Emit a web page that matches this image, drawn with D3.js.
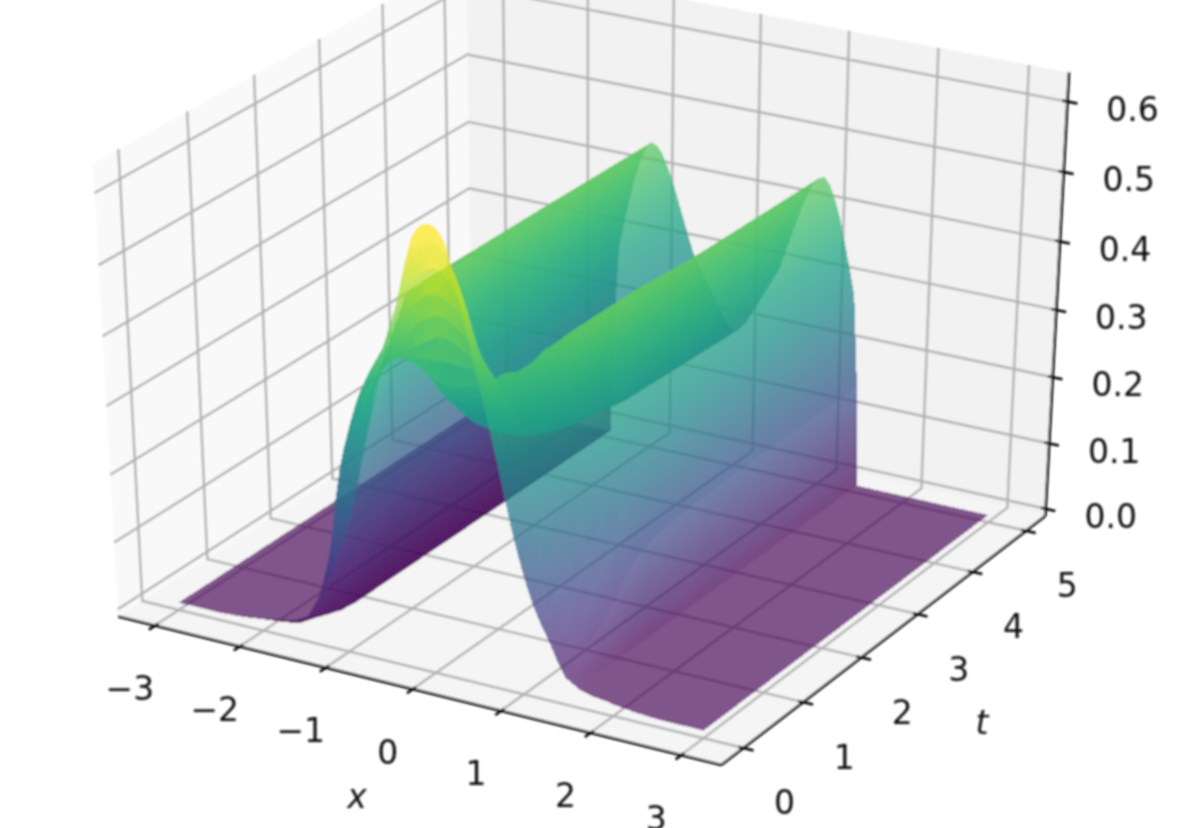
<!DOCTYPE html>
<html>
<head>
<meta charset="utf-8">
<script src="https://cdn.jsdelivr.net/npm/d3@7"></script>
<style>
  html, body { margin: 0; padding: 0; background: #fff; overflow: hidden; }
  text { font-family: "DejaVu Sans", sans-serif; fill: #111; }
</style>
</head>
<body>
<svg id="chart"></svg>
<script>
const width = 1196;
const height = 828;

const xTicks = [-3, -2, -1, 0, 1, 2, 3];
const tTicks = [0, 1, 2, 3, 4, 5];
const zTicks = [0, 0.1, 0.2, 0.3, 0.4, 0.5, 0.6];

// surface. it is even in x, so rows hold x >= 0 only,
// anything past the end of a row sits on the floor
const xHalf = [0, 0.0625, 0.125, 0.1875, 0.25, 0.3125, 0.375, 0.4375, 0.5, 0.5625, 0.625, 0.6875, 0.75, 0.8125, 0.875, 0.9375,
  1, 1.0625, 1.125, 1.1875, 1.25, 1.3125, 1.375, 1.4375, 1.47, 1.625, 1.75, 1.875, 2, 2.25, 2.5, 3];
const tGrid = [0, 0.05, 0.1, 0.2, 0.3, 0.4, 0.5, 0.75, 1, 1.25, 1.5, 2, 3, 5];

const uT000 = [.628, .626, .618, .604, .575, .54, .505, .47, .435, .405, .372, .336, .30, .262, .225, .194, .165, .14, .118, .10, .085, .068, .05, .035, .028, .016, .013, .01, .006, .002];
const uT005 = [.60, .598, .59, .578, .56, .54, .517, .49, .465, .44, .42, .397, .375, .348, .32, .29, .26, .225, .19, .152, .115, .082, .05, .03, .022, .01, .006, .004, .002];
const uT010 = [.525, .524, .52, .513, .505, .495, .48, .467, .452, .44, .43, .415, .40, .383, .365, .342, .315, .285, .25, .20, .135, .085, .045, .028, .02, .006, .002];
const uT020 = [.46, .459, .455, .45, .445, .44, .435, .428, .42, .412, .405, .395, .385, .372, .355, .335, .31, .275, .235, .19, .145, .108, .075, .035, .014, .003];
const uT030 = [.385, .386, .388, .391, .395, .40, .405, .408, .41, .411, .41, .403, .39, .375, .355, .335, .31, .275, .235, .195, .15, .113, .08, .04, .01];
const uT040 = [.36, .361, .364, .37, .377, .386, .396, .405, .412, .416, .416, .412, .403, .39, .375, .358, .335, .30, .26, .215, .175, .135, .095, .05, .007];
const uT050 = [.34, .341, .345, .351, .358, .368, .38, .39, .40, .41, .415, .416, .414, .40, .38, .37, .355, .33, .29, .25, .21, .165, .12, .055, .003];
const uT075 = [.305, .306, .31, .317, .325, .335, .348, .363, .38, .398, .415, .427, .435, .44, .44, .425, .40, .37, .33, .29, .25, .20, .15, .075, 0];
const uT100 = [.28, .281, .286, .293, .302, .313, .327, .343, .36, .38, .40, .418, .433, .443, .45, .452, .45, .42, .385, .345, .305, .26, .20, .11, 0];
const uT125 = [.26, .262, .267, .275, .285, .297, .312, .33, .35, .37, .392, .412, .43, .442, .45, .453, .452, .43, .405, .375, .34, .295, .24, .13, 0];
const uT150 = [.245, .247, .253, .262, .272, .285, .30, .32, .34, .362, .385, .407, .427, .44, .45, .454, .452, .44, .415, .385, .35, .31, .265, .14, 0];
const uT200 = [.225, .227, .234, .243, .255, .27, .285, .305, .325, .35, .375, .40, .42, .437, .45, .453, .452, .44, .42, .39, .355, .32, .275, .145, 0];
const uT300 = [.205, .208, .215, .227, .24, .255, .27, .288, .308, .332, .357, .382, .407, .427, .442, .45, .452, .44, .42, .393, .36, .322, .28, .15, 0];
const uT500 = [.195, .20, .21, .225, .24, .255, .27, .285, .30, .325, .35, .375, .40, .42, .437, .447, .45, .44, .42, .395, .36, .325, .285, .15, 0];
const halfRows = [uT000, uT005, uT010, uT020, uT030, uT040, uT050, uT075, uT100, uT125, uT150, uT200, uT300, uT500];

const mirror = (vals) => [...vals.slice(1).reverse(), ...vals];
const xGrid = [...xHalf.slice(1).reverse().map(x => -x), ...xHalf];
const uRows = halfRows.map(r => mirror(xHalf.map((x, i) => r[i] || 0)));

// box limits, same as the 3d axes the picture came from
const xView = d3.scaleLinear().domain([-3.3, 3.3]).range([0, 1]);
const tView = d3.scaleLinear().domain([-0.25, 5.25]).range([0, 1]);
const zView = d3.scaleLinear().domain([0.002, 0.635]).range([0, 1]);
const paneLo = -1 / 48;
const paneHi = 49 / 48;
const zPaneHi = 1.009;

const elev = 30 * Math.PI / 180;
const azim = -60 * Math.PI / 180;
const dist = 10;
const nv = [Math.cos(elev) * Math.cos(azim), Math.cos(elev) * Math.sin(azim), Math.sin(elev)];
const uv = [-nv[1] / Math.hypot(nv[0], nv[1]), nv[0] / Math.hypot(nv[0], nv[1]), 0];
const vv = [nv[1] * uv[2] - nv[2] * uv[1], nv[2] * uv[0] - nv[0] * uv[2], nv[0] * uv[1] - nv[1] * uv[0]];

const screenX = d3.scaleLinear().domain([-0.0705, 0.0682]).range([118, 1045]);
const screenY = d3.scaleLinear().domain([-0.08365, 0.0552]).range([765, 67]);

// a, b, c are box coordinates, 0..1 on each side
const project = (a, b, c) => {
  const p = [a - 0.5, b - 0.5, c - 0.5];
  const dot = (q) => q[0] * p[0] + q[1] * p[1] + q[2] * p[2];
  const w = dist - dot(nv);
  return [screenX(dot(uv) / w), screenY(dot(vv) / w)];
};

const colorNorm = d3.scaleLinear().domain([0, 0.6]).range([0, 1]).clamp(true);
const colorScale = (u) => d3.interpolateViridis(colorNorm(u));
const alphaScale = d3.scaleLinear().domain([0.02, 0.25]).range([0.66, 0.74]).clamp(true);

const canvas = d3.select('#chart')
  .attr('width', width)
  .attr('height', height)
  .style('display', 'block');

const defs = canvas.append('defs');
defs.append('filter')
  .attr('id', 'soft')
  .attr('filterUnits', 'userSpaceOnUse')
  .attr('x', 0).attr('y', 0).attr('width', width).attr('height', height)
  .append('feGaussianBlur')
  .attr('stdDeviation', 0.85);

const root = canvas.append('g').attr('filter', 'url(#soft)');
const line = d3.line();

const drawPanes = () => {
  const panes = [
    { fill: '#f9f9f9', pts: [[paneLo, paneLo, paneLo], [paneLo, paneHi, paneLo], [paneLo, paneHi, zPaneHi], [paneLo, paneLo, zPaneHi]] },
    { fill: '#f2f2f2', pts: [[paneLo, paneHi, paneLo], [paneHi, paneHi, paneLo], [paneHi, paneHi, zPaneHi], [paneLo, paneHi, zPaneHi]] },
    { fill: '#f5f5f5', pts: [[paneLo, paneLo, paneLo], [paneHi, paneLo, paneLo], [paneHi, paneHi, paneLo], [paneLo, paneHi, paneLo]] }
  ];
  root.append('g').selectAll('path')
    .data(panes)
    .enter()
    .append('path')
    .attr('d', d => line(d.pts.map(q => project(...q))) + 'Z')
    .attr('fill', d => d.fill);
};

const drawGrid = () => {
  const grid = [
    ...xTicks.map(v => [[xView(v), paneLo, paneLo], [xView(v), paneHi, paneLo], [xView(v), paneHi, zPaneHi]]),
    ...tTicks.map(v => [[paneHi, tView(v), paneLo], [paneLo, tView(v), paneLo], [paneLo, tView(v), zPaneHi]]),
    ...zTicks.map(v => [[paneLo, paneLo, zView(v)], [paneLo, paneHi, zView(v)], [paneHi, paneHi, zView(v)]])
  ];
  root.append('g').selectAll('path')
    .data(grid)
    .enter()
    .append('path')
    .attr('d', d => line(d.map(q => project(...q))))
    .attr('fill', 'none')
    .attr('stroke', '#b0b0b0')
    .attr('stroke-width', 2.4);
};

const drawSurface = () => {
  // each patch between two read rows is painted as thin strips, far ones first,
  // then left to right, so the transparency stacks back to front
  const quads = [];
  for (let r = tGrid.length - 2; r >= 0; r--) {
    const strips = Math.max(2, Math.ceil((tGrid[r + 1] - tGrid[r]) / 0.1));
    const mixT = d3.interpolateNumber(tGrid[r], tGrid[r + 1]);
    for (let s = strips - 1; s >= 0; s--) {
      const f0 = s / strips;
      const f1 = (s + 1) / strips;
      const mixed = (c, f) => d3.interpolateNumber(uRows[r][c], uRows[r + 1][c])(f);
      for (let c = 0; c < xGrid.length - 1; c++) {
        quads.push({
          id: `q${r}-${s}-${c}`,
          x0: xGrid[c], x1: xGrid[c + 1], t0: mixT(f0), t1: mixT(f1),
          u00: mixed(c, f0), u10: mixed(c + 1, f0), u01: mixed(c, f1), u11: mixed(c + 1, f1)
        });
      }
    }
  }
  const at = (x, t, u) => project(xView(x), tView(t), zView(u));

  defs.selectAll('linearGradient')
    .data(quads)
    .enter()
    .append('linearGradient')
    .attr('id', d => d.id)
    .attr('gradientUnits', 'userSpaceOnUse')
    .each(function(d) {
      const tm = (d.t0 + d.t1) / 2;
      const u0 = (d.u00 + d.u01) / 2;
      const u1 = (d.u10 + d.u11) / 2;
      const a = at(d.x0, tm, u0);
      const b = at(d.x1, tm, u1);
      // colour bands have to run along t, so drop the part of the axis lying along t
      const p0 = at(d.x0, d.t0, u0);
      const p1 = at(d.x0, d.t1, u0);
      const dir = [p1[0] - p0[0], p1[1] - p0[1]];
      const ab = [b[0] - a[0], b[1] - a[1]];
      const k = (ab[0] * dir[0] + ab[1] * dir[1]) / (dir[0] * dir[0] + dir[1] * dir[1]);
      d3.select(this)
        .attr('x1', a[0]).attr('y1', a[1])
        .attr('x2', b[0] - k * dir[0]).attr('y2', b[1] - k * dir[1]);
      d3.select(this).append('stop').attr('offset', 0).attr('stop-color', colorScale(u0));
      d3.select(this).append('stop').attr('offset', 1).attr('stop-color', colorScale(u1));
    });

  root.append('g')
    .attr('shape-rendering', 'crispEdges')
    .selectAll('path')
    .data(quads)
    .enter()
    .append('path')
    .attr('d', d => line([at(d.x0, d.t0, d.u00), at(d.x1, d.t0, d.u10), at(d.x1, d.t1, d.u11), at(d.x0, d.t1, d.u01)]) + 'Z')
    .attr('fill', d => `url(#${d.id})`)
    .attr('fill-opacity', d => alphaScale(Math.max(d.u00, d.u10, d.u01, d.u11)));
};

const drawAxes = () => {
  const axes = [
    [[paneLo, paneLo, paneLo], [paneHi, paneLo, paneLo]],
    [[paneHi, paneLo, paneLo], [paneHi, paneHi, paneLo]],
    [[paneHi, paneHi, paneLo], [paneHi, paneHi, zPaneHi]]
  ];
  const tickOut = 1 / 60;
  const tickIn = 1 / 120;
  const tickLines = [
    ...xTicks.map(v => [[xView(v), paneLo - tickOut, paneLo], [xView(v), paneLo + tickIn, paneLo]]),
    ...tTicks.map(v => [[paneHi + tickOut, tView(v), paneLo], [paneHi - tickIn, tView(v), paneLo]]),
    ...zTicks.map(v => [[paneHi + tickOut, paneHi, zView(v)], [paneHi - tickIn, paneHi, zView(v)]])
  ];
  root.append('g').selectAll('path')
    .data([...axes, ...tickLines])
    .enter()
    .append('path')
    .attr('d', d => line(d.map(q => project(...q))))
    .attr('fill', 'none')
    .attr('stroke', '#000')
    .attr('stroke-width', 2.6);

  const fmt = d3.format('.1f');
  const labels = [
    ...xTicks.map(v => { const p = project(xView(v), paneLo, paneLo); return { s: d3.format('d')(v).replace('-', '\u2212'), x: p[0] - 25, y: p[1] + 63 }; }),
    ...tTicks.map(v => { const p = project(paneHi, tView(v), paneLo); return { s: String(v), x: p[0] + 41, y: p[1] + 55 }; }),
    ...zTicks.map(v => { const p = project(paneHi, paneHi, zView(v)); return { s: fmt(v), x: p[0] + 65, y: p[1] + 7.5 }; })
  ];
  root.append('g').selectAll('text')
    .data(labels)
    .enter()
    .append('text')
    .attr('x', d => d.x)
    .attr('y', d => d.y)
    .attr('text-anchor', 'middle')
    .attr('dominant-baseline', 'central')
    .attr('font-size', 33)
    .text(d => d.s);

  root.append('text').attr('x', 357).attr('y', 796)
    .attr('text-anchor', 'middle').attr('dominant-baseline', 'central')
    .attr('font-size', 33).attr('font-style', 'italic').text('x');
  root.append('text').attr('x', 982).attr('y', 722)
    .attr('text-anchor', 'middle').attr('dominant-baseline', 'central')
    .attr('font-size', 33).attr('font-style', 'italic').text('t');
  root.append('text')
    .attr('transform', 'translate(1205,285) rotate(-90)')
    .attr('text-anchor', 'middle').attr('dominant-baseline', 'central')
    .attr('font-size', 33).attr('font-style', 'italic').text('\u03c6');
};

drawPanes();
drawGrid();
drawSurface();
drawAxes();
</script>
</body>
</html>
